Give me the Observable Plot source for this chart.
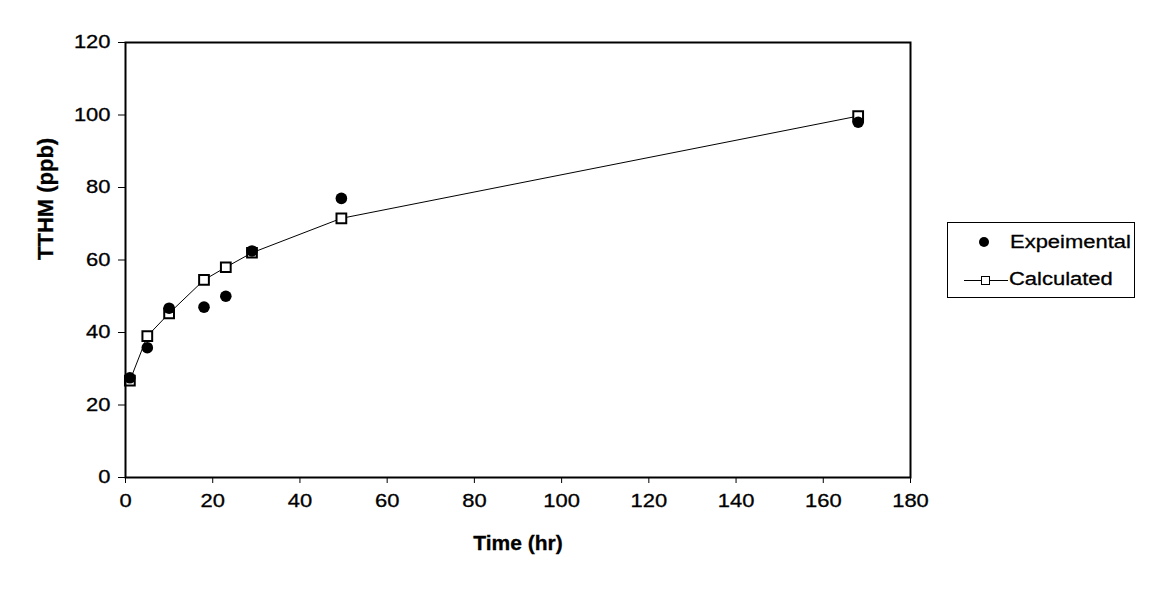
<!DOCTYPE html>
<html><head><meta charset="utf-8">
<script src="https://cdn.jsdelivr.net/npm/d3@7"></script>
<script src="https://cdn.jsdelivr.net/npm/@observablehq/plot@0.6"></script>
<style>
body{margin:0;background:#fff;font-family:"Liberation Sans",Arial,sans-serif;}
#wrap{position:relative;width:1157px;height:596px;overflow:hidden;}
#legend{position:absolute;left:947px;top:222px;width:188px;height:76px;border:1px solid #000;box-sizing:border-box;background:#fff;}
#legend .t{position:absolute;font-size:18px;line-height:18px;white-space:nowrap;transform:scaleX(1.22);transform-origin:0 0;color:#000;-webkit-text-stroke:0.3px #000;}
#legend .dot{position:absolute;width:10px;height:10px;border-radius:50%;background:#000;}
#legend .ln{position:absolute;height:1px;background:#000;}
#legend .sq{position:absolute;width:9px;height:9px;border:1px solid #000;background:#fff;box-sizing:border-box;}
svg text{stroke:#000;stroke-width:0.3px;}
</style></head><body><div id="wrap"></div>
<script>
const time = [1, 5, 10, 18, 23, 29, 49.5, 168];
const experimental = [27.5, 35.8, 46.7, 47, 50, 62.5, 77, 98];
const calculated = [26.7, 39, 45.3, 54.5, 58, 62, 71.5, 99.7];
const xTicks = [0, 20, 40, 60, 80, 100, 120, 140, 160, 180];
const yTicks = [0, 20, 40, 60, 80, 100, 120];
const seriesNames = ["Expeimental", "Calculated"];
const xLabel = "Time (hr)";
const yLabel = "TTHM (ppb)";

const expData = time.map((t, i) => ({t, v: experimental[i]}));
const calcData = time.map((t, i) => ({t, v: calculated[i]}));

const chart = Plot.plot({
  width: 1157, height: 596,
  marginLeft: 125, marginRight: 247, marginTop: 42, marginBottom: 119,
  style: {fontFamily: "'Liberation Sans', Arial, sans-serif", fontSize: "18px", color: "#000", background: "#fff", overflow: "visible"},
  x: {domain: [0, 180], ticks: xTicks, tickSize: 6, tickPadding: 11, label: null},
  y: {domain: [0, 120], ticks: yTicks, tickSize: 7, tickPadding: 8, label: null},
  marks: [
    Plot.line(calcData, {x: "t", y: "v", stroke: "black", strokeWidth: 1}),
    Plot.dot(calcData, {x: "t", y: "v", symbol: "square", r: 5.5, fill: "white", stroke: "black", strokeWidth: 2}),
    Plot.dot(expData, {x: "t", y: "v", r: 5.8, fill: "black", stroke: "none"}),
    Plot.frame({stroke: "black", strokeWidth: 2}),
    Plot.text([xLabel], {text: d => d, frameAnchor: "bottom", dy: 66, lineAnchor: "middle", fontWeight: "bold", fontSize: 21, ariaLabel: "x-title"}),
    Plot.text([yLabel], {text: d => d, frameAnchor: "left", dx: -80, rotate: -90, lineAnchor: "middle", fontWeight: "bold", fontSize: 22, ariaLabel: "y-title"})
  ]
});

function stretch(sel, k) {
  chart.querySelectorAll(sel).forEach(el => {
    const tr = el.getAttribute("transform") || "";
    el.setAttribute("transform", tr + ` scale(${k},1)`);
  });
}
stretch('g[aria-label$="tick label"] text', 1.22);
stretch('g[aria-label="x-title"] text', 1.12);
stretch('g[aria-label="y-title"] text', 1.2);

const wrap = document.getElementById("wrap");
wrap.appendChild(chart);

const legend = document.createElement("div");
legend.id = "legend";
legend.innerHTML = `
  <div class="dot" style="left:31px;top:14px"></div>
  <div class="t" style="left:62px;top:9.5px">${seriesNames[0]}</div>
  <div class="ln" style="left:16px;top:56.5px;width:44px"></div>
  <div class="sq" style="left:32.5px;top:52.5px"></div>
  <div class="t" style="left:61px;top:47.3px">${seriesNames[1]}</div>`;
wrap.appendChild(legend);
</script>
</body></html>
